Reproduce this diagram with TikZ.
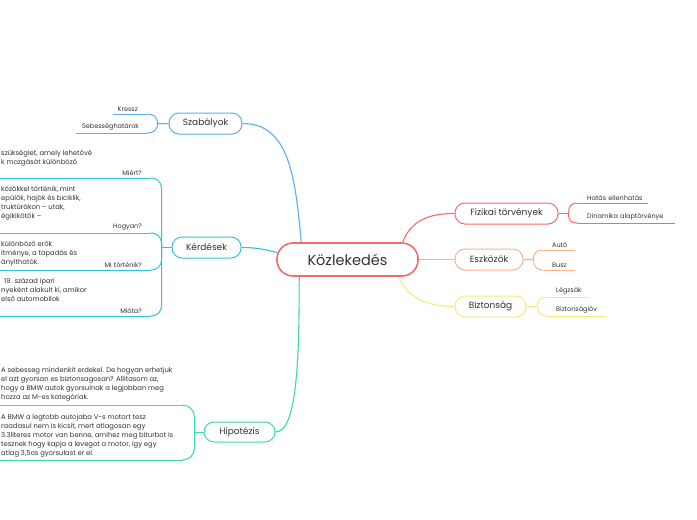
\documentclass[tikz,border=0pt]{standalone}
\usepackage{fontspec}
\setmainfont{Poppins}
\usetikzlibrary{calc}
\definecolor{cred}{HTML}{F46B6B}
\definecolor{cblue}{HTML}{5AAEF5}
\definecolor{cteal}{HTML}{2EC6D6}
\definecolor{cgreen}{HTML}{3DD9A8}
\definecolor{corange}{HTML}{FFB088}
\definecolor{cyellow}{HTML}{F8EC78}
\definecolor{ctext}{HTML}{333333}
\begin{document}
\begin{tikzpicture}[x=1pt,y=-1pt,
  topic/.style={draw=#1, line width=1pt, rounded corners=10pt, fill=white, inner sep=0pt,
    minimum height=21pt, text=ctext, font=\fontsize{9}{11}\selectfont},
  subl/.style={inner xsep=0pt, inner ysep=2.5pt, text=ctext, font=\fontsize{6.5}{8}\selectfont,
    anchor=south west, align=left, text width=#1},
  subr/.style={inner xsep=0pt, inner ysep=2.5pt, text=ctext, font=\fontsize{6.5}{8}\selectfont,
    anchor=south east, align=right, text width=#1},
  body/.style={inner sep=0pt, align=left, text=ctext, font=\fontsize{6.8}{8.9}\selectfont, anchor=base west},
  uline/.style={inner sep=0pt, minimum height=0pt},
  link/.style={draw=#1, line width=1.1pt},
  sline/.style={draw=#1, line width=1pt},
]
\useasboundingbox (0,0) rectangle (697,520);
\fill[white] (0,0) rectangle (697,520);
\begin{scope}
\clip (0,0) rectangle (697,520);

% main topics
\node[topic=cred, minimum width=141pt, minimum height=33pt, rounded corners=16pt, line width=1.6pt,
  font=\fontsize{14.5}{18}\selectfont] (cen) at (347.5,259.5) {Közlekedés};
\node[topic=cblue, minimum width=73pt] (sza) at (205.5,123.5) {Szabályok};
\node[topic=cteal, minimum width=69pt] (ker) at (206.5,247.5) {Kérdések};
\node[topic=cgreen, minimum width=71pt, minimum height=20pt] (hip) at (239.5,432) {Hipotézis};
\node[topic=cred, minimum width=103pt] (fiz) at (506.5,213.5) {Fizikai törvények};
\node[topic=corange, minimum width=68pt] (esz) at (489,259.5) {Eszközök};
\node[topic=cyellow, minimum width=71pt] (biz) at (490.5,306.5) {Biztonság};

% central links
\draw[link=cblue] (sza.east) .. controls +(45,0) and +(-6,-70) .. ($(cen.north west)+(25,0)$);
\draw[link=cteal] (ker.east) .. controls +(15,0) and +(-12,-3) .. ($(cen.west)+(1,-7)$);
\draw[link=cgreen] (hip.east) .. controls +(22,0) and +(0,80) .. ($(cen.south west)+(23,0)$);
\draw[link=cred] ($(cen.north east)+(-16,0)$) .. controls +(8,-22) and +(-25,0) .. (fiz.west);
\draw[link=corange] (cen.east) -- (esz.west);
\draw[link=cyellow] ($(cen.south east)+(-20,0)$) .. controls +(8,22) and +(-25,0) .. (biz.west);

% Szabalyok children
\node[subr=34pt] (kr) at (147,114) {Kressz\hspace*{9pt}};
\node[subr=71pt] (seb) at (147,133) {Sebességhatárok\hspace*{8pt}};
\foreach \c in {kr,seb} \draw[sline=cblue] (\c.south west) -- (\c.south east);
\draw[sline=cblue] (sza.west) -- ++(-11,0) .. controls +(0,-7) and +(6,0) .. (kr.south east);
\draw[sline=cblue] (sza.west) -- ++(-11,0) .. controls +(0,7) and +(6,0) .. (seb.south east);

% Fizikai children
\node[subl=71pt] (hat) at (577,203) {\hspace*{10pt}Hatás ellenhatás};
\node[subl=98pt] (din) at (577,223) {\hspace*{10pt}Dinamika alaptörvénye};
\foreach \c in {hat,din} \draw[sline=cred] (\c.south west) -- (\c.south east);
\draw[sline=cred, line width=1.5pt] (fiz.east) -- ++(10,0);
\draw[sline=cred] (fiz.east) ++(10,0) .. controls +(0,-7) and +(-6,0) .. (hat.south west);
\draw[sline=cred] (fiz.east) ++(10,0) .. controls +(0,7) and +(-6,0) .. (din.south west);

% Eszkozok children
\node[subl=32pt] (aut) at (543,250) {\hspace*{9pt}Autó};
\node[subl=32pt] (bus) at (543,270) {\hspace*{9pt}Busz};
\foreach \c in {aut,bus} \draw[sline=corange] (\c.south west) -- (\c.south east);
\draw[sline=corange] (esz.east) -- ++(10,0) .. controls +(0,-7) and +(-6,0) .. (aut.south west);
\draw[sline=corange] (esz.east) -- ++(10,0) .. controls +(0,7) and +(-6,0) .. (bus.south west);

% Biztonsag children
\node[subl=42pt] (lz) at (547,297) {\hspace*{9pt}Légzsák};
\node[subl=59pt] (bo) at (547,316) {\hspace*{9pt}Biztonságiöv};
\foreach \c in {lz,bo} \draw[sline=cyellow] (\c.south west) -- (\c.south east);
\draw[sline=cyellow] (biz.east) -- ++(11,0) .. controls +(0,-7) and +(-6,0) .. (lz.south west);
\draw[sline=cyellow] (biz.east) -- ++(11,0) .. controls +(0,7) and +(-6,0) .. (bo.south west);

% Kerdesek children
\node[subr=150pt] (mi) at (150,178) {Miért?\hspace*{8pt}};
\node[subr=150pt] (ho) at (150,233) {Hogyan?\hspace*{8pt}};
\node[subr=150pt] (mt) at (150,270) {Mi történik?\hspace*{8pt}};
\node[subr=150pt] (mo) at (150,316) {Mióta?\hspace*{8pt}};
\foreach \c in {mi,ho,mt,mo} \draw[sline=cteal] (\c.south west) -- (\c.south east);
\draw[sline=cteal] (ker.west) -- ++(-10,0) coordinate (kj);
\foreach \c in {mi,ho,mt,mo} \draw[sline=cteal, rounded corners=10pt] (kj) |- (\c.south east);
\node[body] (b1) at (1,164.5) {szükséglet, amely lehetővé\\k mozgását különböző};
\node[body] (b2) at (1,218.5) {közökkel történik, mint\\epülők, hajók és biciklik,\\truktúrákon – utak,\\égikikötők –};
\node[body] (b3) at (1,264.5) {különböző erők\\ítménye, a tapadás és\\ányíthatók.};
\node[body] (b4) at (1,301.5) {\hspace*{3pt}19. század ipari\\nyeként alakult ki, amikor\\első automobilok};

% Hipotezis children
\node[uline, minimum width=183pt, anchor=south east] (h1) at (183,405) {};
\node[uline, minimum width=183pt, anchor=south east] (h2) at (183,460) {};
\foreach \c in {h1,h2} \draw[sline=cgreen] (\c.south west) -- (\c.south east);
\draw[sline=cgreen] (hip.west) -- ++(-9,0) coordinate (hj);
\foreach \c in {h1,h2} \draw[sline=cgreen, rounded corners=12pt] (hj) |- (\c.south east);
\node[body] (hb1) at (1,399.5) {A sebesseg mindenkit erdekel. De hogyan erhetjuk\\el azt gyorsan es biztonsagosan? Allitasom az,\\hogy a BMW autok gyorsulnak a legjobban meg\\hozza az M-es kategóriak.};
\node[body] (hb2) at (1,455.5) {A BMW a legtobb autojaba V-s motort tesz\\raadasul nem is kicsit, mert atlagosan egy\\3.3literes motor van benne, amihez meg biturbot is\\tesznek hogy kapja a levegot a motor, igy egy\\atlag 3,5os gyorsulast er el.};
\end{scope}
\end{tikzpicture}
\end{document}
